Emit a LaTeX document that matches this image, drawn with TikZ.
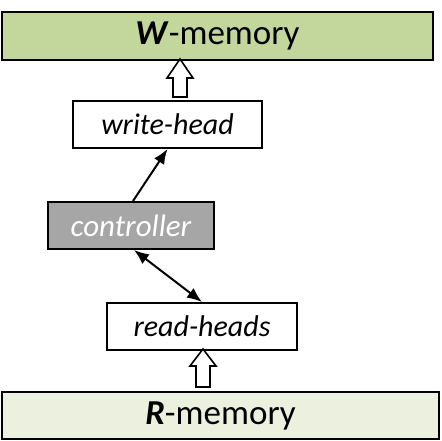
\documentclass[tikz,border=0pt]{standalone}
\usepackage{fontspec}
\setmainfont{Carlito}
\usetikzlibrary{arrows.meta,calc}
\definecolor{wgreen}{HTML}{C3D69B}
\definecolor{rgreen}{HTML}{EBF1DE}
\definecolor{ctrlgray}{HTML}{A6A6A6}
\tikzset{
  box/.style={draw=black, line width=2pt, inner sep=0pt, minimum height=47pt},
  memfont/.style={font=\fontsize{35}{40}\selectfont},
  headfont/.style={font=\fontsize{30}{36}\selectfont\itshape},
  hollow/.style={draw=black, fill=white, line width=1.6pt, line join=miter},
  conn/.style={line width=2pt, -{Latex[length=15pt,width=12pt]}},
  dconn/.style={line width=2pt, {Latex[length=15pt,width=12pt]}-{Latex[length=15pt,width=12pt]}}
}
\begin{document}
\begin{tikzpicture}[x=1pt,y=-1pt]
\useasboundingbox (0,0) rectangle (441,441);
\node[box, fill=wgreen, minimum width=431pt, minimum height=48pt, memfont] (wm) at (217.5,36) {\textbf{\textit{W}}-memory};
\node[box, fill=white, minimum width=189pt, headfont] (wh) at (167.5,124.5) {write-head};
\node[box, fill=ctrlgray, minimum width=166pt, headfont, font=\fontsize{31}{36}\selectfont\itshape, text=white] (ctrl) at (131,225.5) {controller};
\node[box, fill=white, minimum width=190pt, headfont] (rh) at (202,326.5) {read-heads};
\node[box, fill=rgreen, minimum width=437pt, memfont] (rm) at (220.5,415.5) {\textbf{\textit{R}}-memory};
% hollow arrow write-head -> W-memory
\path[hollow] ($(wh.north)+(5.5,-3)$) -- ++(0,-19) -- ++(-6,0) -- ++(13,-19) -- ++(13,19) -- ++(-6,0) -- ++(0,19) -- cycle;
% hollow arrow R-memory -> read-heads
\path[hollow] ($(rm.north)+(-24.5,-4)$) -- ++(0,-21) -- ++(-6,0) -- ++(13,-17) -- ++(13,17) -- ++(-6,0) -- ++(0,21) -- cycle;
\draw[conn] ([xshift=2pt]ctrl.north) -- (wh.south);
\draw[dconn] ([xshift=3pt]ctrl.south) -- (rh.north);
\end{tikzpicture}
\end{document}
